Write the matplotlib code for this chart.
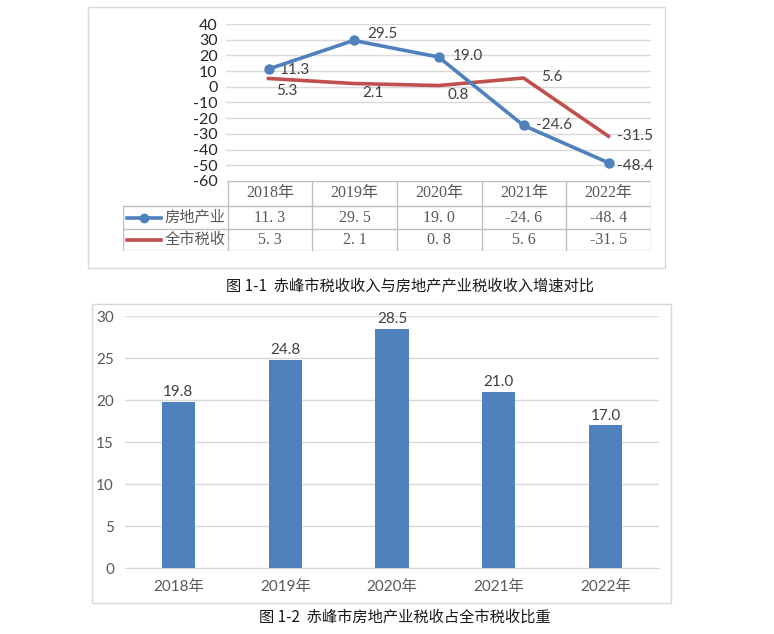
import numpy as np
import matplotlib.pyplot as plt
from matplotlib.patches import Rectangle
from matplotlib.lines import Line2D

plt.rcParams['font.family'] = ['Lato', 'Noto Sans CJK SC', 'DejaVu Sans']
plt.rcParams['axes.unicode_minus'] = False

# ── data ──────────────────────────────────────────────────────────────────────
years = ["2018年", "2019年", "2020年", "2021年", "2022年"]
realty_growth = [11.3, 29.5, 19.0, -24.6, -48.4]
city_growth = [5.3, 2.1, 0.8, 5.6, -31.5]
series_names = ["房地产业", "全市税收"]
realty_share = [19.8, 24.8, 28.5, 21.0, 17.0]
caption1 = "图 1-1  赤峰市税收收入与房地产产业税收收入增速对比"
caption2 = "图 1-2  赤峰市房地产业税收占全市税收比重"

BLUE = "#4F81BD"
RED = "#C0504D"
GRID = "#D9D9D9"
TXT = "#404040"

W, H = 774, 634
fig = plt.figure(figsize=(W / 100, H / 100), dpi=100)


def px_axes(x0, y0, x1, y1, **kw):
    return fig.add_axes([x0 / W, 1 - y1 / H, (x1 - x0) / W, (y1 - y0) / H], **kw)


def px_box(x0, y0, x1, y1):
    fig.patches.append(Rectangle((x0 / W, 1 - y1 / H), (x1 - x0) / W, (y1 - y0) / H,
                                 transform=fig.transFigure, fill=False,
                                 edgecolor="#D9D9D9", lw=1.0))


# ── chart 1: growth lines with data table ─────────────────────────────────────
px_box(88, 7, 665, 268)
ax1 = px_axes(226, 24, 651, 181)
x = np.arange(len(years))
ax1.plot(x, realty_growth, color=BLUE, lw=2.6, marker="o", ms=6.5, zorder=4)
ax1.plot(x, city_growth, color=RED, lw=2.6, zorder=3)
ax1.set_xlim(-0.5, len(years) - 0.5)
ax1.set_ylim(-60, 40)
ax1.set_yticks(range(-60, 41, 10))
ax1.set_xticks([])
ax1.grid(axis="y", color=GRID, lw=1)
ax1.set_axisbelow(True)
for s in ax1.spines.values():
    s.set_visible(False)
ax1.tick_params(axis="y", length=0, labelsize=11.5, labelcolor="#262626", pad=6)

blue_off = [(8, -1), (10, 5), (10, 1), (9, 0), (6, -2)]
for i, v in enumerate(realty_growth):
    ax1.annotate(f"{v:.1f}", (i, v), xytext=blue_off[i], textcoords="offset points",
                 ha="left", va="center", fontsize=11, color=TXT)
red_off = [(13, -9), (14, -7), (14, -7), (13, 1), (6, 0)]
for i, v in enumerate(city_growth):
    ha = "center" if i < 3 else "left"
    ax1.annotate(f"{v:.1f}", (i, v), xytext=red_off[i], textcoords="offset points",
                 ha=ha, va="center", fontsize=11, color=TXT)

# data table below the plot
tab = px_axes(123, 181, 651, 251)
lead = 105 / 85
tab.set_xlim(-0.5 - lead, len(years) - 0.5)
tab.set_ylim(70, 0)
tab.axis("off")
lc = "#BFBFBF"
rows_y = [0, 25, 48, 70]
tab.plot([-0.5, len(years) - 0.5], [0, 0], color=lc, lw=1)
for yy in rows_y[1:]:
    tab.plot([-0.5 - lead, len(years) - 0.5], [yy, yy], color=lc, lw=1)
for k in range(len(years) + 1):
    tab.plot([k - 0.5, k - 0.5], [0, 70], color=lc, lw=1)
tab.plot([-0.5 - lead, -0.5 - lead], [25, 70], color=lc, lw=1)

serif = ['Liberation Serif', 'Noto Sans CJK SC']
for i, yr in enumerate(years):
    tab.text(i, 12.5, yr, ha="center", va="center", fontsize=11.5, color="#595959", family=serif)
for r, vals in enumerate([realty_growth, city_growth]):
    yc = (rows_y[r + 1] + rows_y[r + 2]) / 2
    for i, v in enumerate(vals):
        tab.text(i, yc, f"{v:.1f}".replace(".", ". "), ha="center", va="center",
                 fontsize=11.5, color="#595959", family=serif)
# legend keys inside the table
xl0 = -0.5 - lead + 0.05
for r, (name, col, mk) in enumerate(zip(series_names, [BLUE, RED], ["o", None])):
    yc = (rows_y[r + 1] + rows_y[r + 2]) / 2
    tab.add_line(Line2D([xl0, xl0 + 0.4], [yc, yc], color=col, lw=2.6))
    if mk:
        tab.plot(xl0 + 0.2, yc, marker=mk, color=col, ms=6)
    tab.text(xl0 + 0.44, yc, name, ha="left", va="center", fontsize=11,
             color="#595959", family=serif)

fig.text(410 / W, 1 - 286 / H, caption1, ha="center", va="center", fontsize=11,
         family=['Noto Sans CJK SC'], color="#1a1a1a")

# ── chart 2: share bars ───────────────────────────────────────────────────────
px_box(92, 304, 671, 603)
ax2 = px_axes(125, 316, 659, 568)
ax2.bar(x, realty_share, width=0.31, color=BLUE, zorder=3)
ax2.set_xlim(-0.5, len(years) - 0.5)
ax2.set_ylim(0, 30)
ax2.set_yticks(range(0, 31, 5))
ax2.set_xticks(x)
ax2.set_xticklabels(years)
ax2.grid(axis="y", color=GRID, lw=1)
ax2.set_axisbelow(True)
for s in ax2.spines.values():
    s.set_visible(False)
ax2.spines["bottom"].set_visible(True)
ax2.spines["bottom"].set_color(GRID)
ax2.tick_params(axis="y", length=0, labelsize=11, labelcolor="#595959", pad=8)
ax2.tick_params(axis="x", length=0, labelsize=11, labelcolor="#595959", pad=9)
for i, v in enumerate(realty_share):
    ax2.text(i, v + 0.3, f"{v:.1f}", ha="center", va="bottom", fontsize=11, color=TXT)

fig.text(405 / W, 1 - 617 / H, caption2, ha="center", va="center", fontsize=11,
         family=['Noto Sans CJK SC'], color="#1a1a1a")

fig.savefig("out.png", dpi=100)
